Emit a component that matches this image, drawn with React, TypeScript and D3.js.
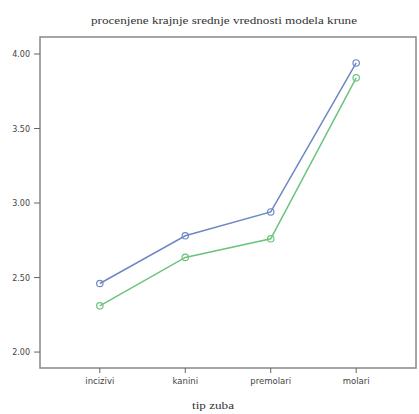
import React from "react";
import * as d3 from "d3";

const categories = ["incizivi", "kanini", "premolari", "molari"];
const seriesBlue = [2.46, 2.78, 2.94, 3.94];
const seriesGreen = [2.31, 2.635, 2.76, 3.84];
const yTicks = [2.0, 2.5, 3.0, 3.5, 4.0];
const title = "procenjene krajnje srednje vrednosti modela krune";
const xTitle = "tip zuba";

export default function App() {
  const W = 419, H = 414;
  const left = 40, right = 416, top = 37, bottom = 368;
  const x = d3.scalePoint<string>().domain(categories).range([left, right]).padding(0.7);
  const y = d3.scaleLinear().domain([1.893, 4.114]).range([bottom, top]);
  const line = d3.line<number>().x((_, i) => x(categories[i])!).y((d) => y(d));
  const series = [
    { values: seriesBlue, color: "#6f88c4" },
    { values: seriesGreen, color: "#6cc47c" },
  ];
  return (
    <svg width={W} height={H} style={{ position: "absolute", left: 0, top: 0, background: "#fff" }}>
      <text x={224} y={24} textAnchor="middle" fontFamily="Liberation Serif" fontSize={11} textLength={266} lengthAdjust="spacingAndGlyphs" fill="#333">{title}</text>
      <rect x={left} y={top} width={right - left} height={bottom - top} fill="none" stroke="#888" strokeWidth={1.5} />
      {yTicks.map((t) => (
        <g key={t}>
          <line x1={left - 6} x2={left} y1={y(t)} y2={y(t)} stroke="#666" strokeWidth={1} />
          <text x={left - 10} y={y(t) + 3} textAnchor="end" fontFamily="DejaVu Sans" fontSize={8} fill="#444">{t.toFixed(2)}</text>
        </g>
      ))}
      {categories.map((c) => (
        <g key={c}>
          <line x1={x(c)} x2={x(c)} y1={bottom} y2={bottom + 5} stroke="#666" strokeWidth={1} />
          <text x={x(c)} y={bottom + 16} textAnchor="middle" fontFamily="DejaVu Sans" fontSize={8.5} fill="#444">{c}</text>
        </g>
      ))}
      <text x={213} y={409} textAnchor="middle" fontFamily="Liberation Serif" fontSize={11} textLength={42} lengthAdjust="spacingAndGlyphs" fill="#333">{xTitle}</text>
      {series.map((s, si) => (
        <g key={si}>
          <path d={line(s.values)!} fill="none" stroke={s.color} strokeWidth={1.5} />
          {s.values.map((v, i) => (
            <circle key={i} cx={x(categories[i])} cy={y(v)} r={3.2} fill="none" stroke={s.color} strokeWidth={1.2} />
          ))}
        </g>
      ))}
    </svg>
  );
}
